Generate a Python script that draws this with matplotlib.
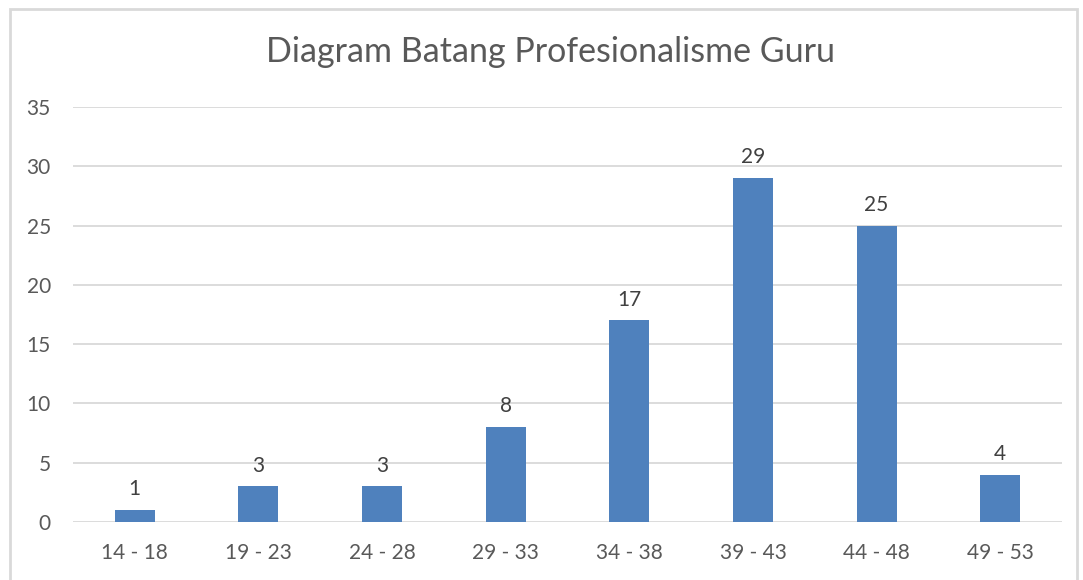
import matplotlib.pyplot as plt
from matplotlib.patches import Rectangle

categories = ['14 - 18', '19 - 23', '24 - 28', '29 - 33', '34 - 38', '39 - 43', '44 - 48', '49 - 53']
values = [1, 3, 3, 8, 17, 29, 25, 4]
yticks = [0, 5, 10, 15, 20, 25, 30, 35]

plt.rcParams['font.family'] = ['Lato', 'DejaVu Sans']
txt = '#595959'

fig = plt.figure(figsize=(10.83, 5.80), dpi=100)
ax = fig.add_axes([73 / 1083, 1 - 522 / 580, 989 / 1083, 415 / 580])

x = range(len(categories))
ax.bar(x, values, width=0.324, color='#4f81bd', zorder=3)
for xi, v in zip(x, values):
    ax.text(xi, v + 0.9, str(v), ha='center', va='bottom', fontsize=15, color='#404040')

ax.set_xlim(-0.5, len(categories) - 0.5)
ax.set_ylim(0, 35)
ax.set_yticks(yticks)
ax.set_xticks(list(x))
ax.set_xticklabels(categories)
ax.grid(axis='y', color='#d9d9d9', linewidth=1.3, zorder=0)
for s in ax.spines.values():
    s.set_visible(False)
ax.tick_params(length=0, labelsize=15, colors=txt, pad=15)
ax.tick_params(axis='y', pad=16)

fig.text(550 / 1083, 1 - 52 / 580, 'Diagram Batang Profesionalisme Guru',
         ha='center', va='center', fontsize=24.5, color=txt)

fig.patches.append(Rectangle((9.5 / 1083, -0.05), (1077 - 9.5) / 1083, (580 - 8.5) / 580 + 0.05,
                             transform=fig.transFigure, fill=False, edgecolor='#d9d9d9', linewidth=2))

fig.savefig('out.png', dpi=100)
